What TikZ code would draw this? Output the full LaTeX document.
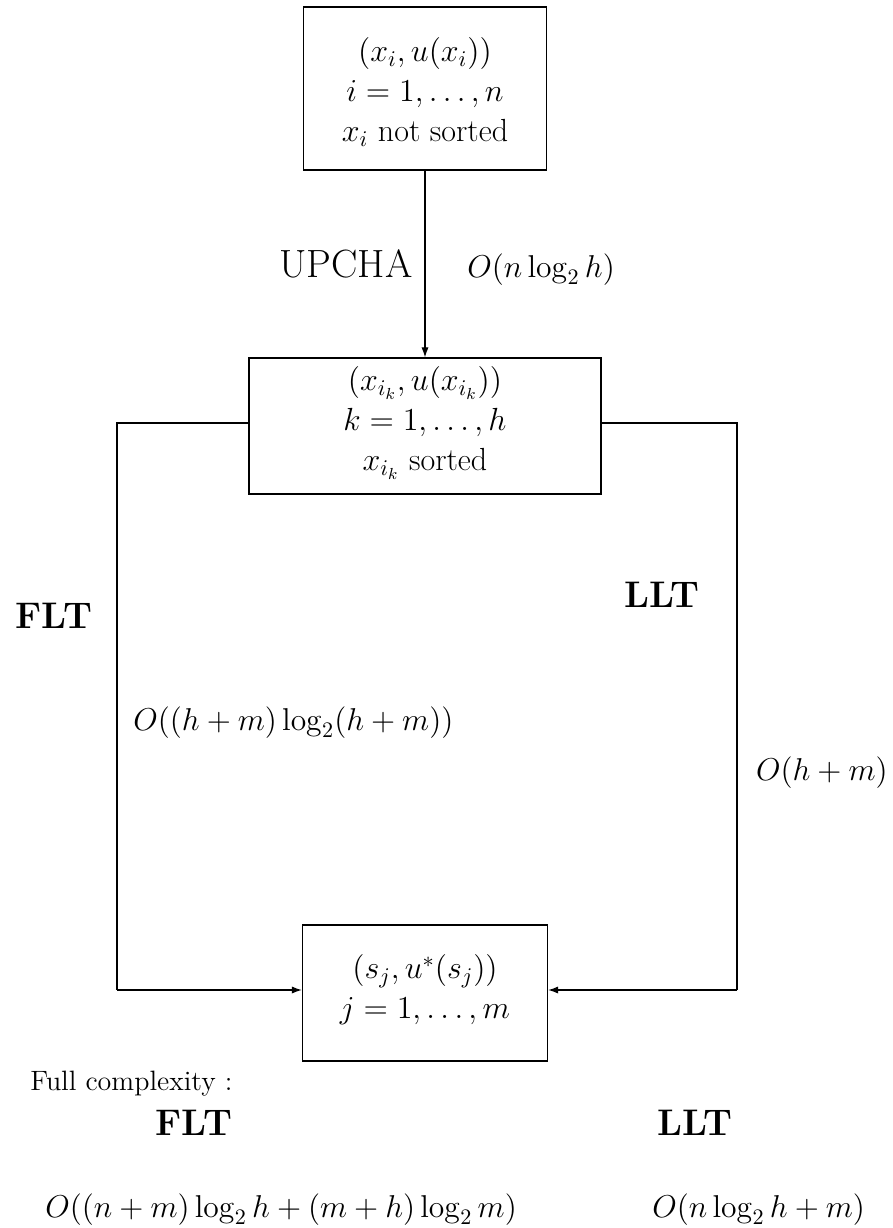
\RequirePackage{fix-cm}
\documentclass[tikz,border=0pt]{standalone}
\usetikzlibrary{arrows.meta}
\begin{document}
\begin{tikzpicture}[x=0.5pt,y=-0.5pt,
  box/.style={draw, line width=0.7pt, inner sep=0pt},
  boxtext/.style={align=center, font=\fontsize{16}{20}\selectfont, inner sep=0pt},
  lbl/.style={font=\fontsize{15.8}{19}\selectfont, inner sep=0pt, anchor=base west},
  bigl/.style={font=\fontsize{18.5}{22}\selectfont\bfseries, inner sep=0pt, anchor=base west},
  conn/.style={line width=0.55pt, -{Latex[length=5pt,width=3.6pt]}},
  wire/.style={line width=0.55pt}]
\useasboundingbox (0,0) rectangle (893,1228);

% boxes
\node[box, minimum width=121.5pt, minimum height=81.5pt] (top) at (425,88.5) {};
\node[boxtext] (toptext) at (425,92) {$(x_i,u(x_i))$\\ $i=1,\ldots,n$\\ $x_i$ not sorted};

\node[box, minimum width=176pt, minimum height=68pt] (mid) at (425,426) {};
\node[boxtext] (midtext) at (425,423) {$(x_{i_k},u(x_{i_k}))$\\ $k=1,\ldots,h$\\ $x_{i_k}$ sorted};

\node[box, minimum width=122.5pt, minimum height=68pt] (bot) at (425,993) {};
\node[boxtext] (bottext) at (425,990) {$(s_j,u^*(s_j))$\\ $j=1,\ldots,m$};

% connectors
\coordinate (lu) at (117,423);
\coordinate (ld) at (117,990);
\coordinate (ru) at (737,423);
\coordinate (rd) at (737,990);
\coordinate (botw) at (bot.west |- ld);
\coordinate (bote) at (bot.east |- rd);
\coordinate (midw) at (mid.west |- lu);
\coordinate (mide) at (mid.east |- ru);

\draw[conn] (top.south) -- (mid.north);
\draw[wire] (midw) -- (lu) -- (ld);
\draw[conn] (ld) -- (botw);
\draw[wire] (mide) -- (ru) -- (rd);
\draw[conn] (rd) -- (bote);

% labels
\node[font=\fontsize{19.7}{24}\selectfont, inner sep=0pt, anchor=base east] (upcha) at (413,277) {UPCHA};
\node[lbl] (cup) at (467,277) {$O(n\log_2 h)$};
\node[bigl] (flt) at (15,628) {FLT};
\node[bigl] (llt) at (624,607) {LLT};
\node[lbl] (cflt) at (133,730) {$O((h+m)\log_2(h+m))$};
\node[lbl, anchor=base east] (cllt) at (888,780) {$O(h+m)$};

\node[font=\fontsize{14}{17}\selectfont, inner sep=0pt, anchor=base west] (full) at (30,1090) {Full complexity :};
\node[bigl] (flt2) at (155,1135) {FLT};
\node[bigl] (llt2) at (657,1135) {LLT};
\node[lbl] (fflt) at (45,1217) {$O((n+m)\log_2 h+(m+h)\log_2 m)$};
\node[lbl] (fllt) at (652,1217) {$O(n\log_2 h+m)$};
\end{tikzpicture}
\end{document}
